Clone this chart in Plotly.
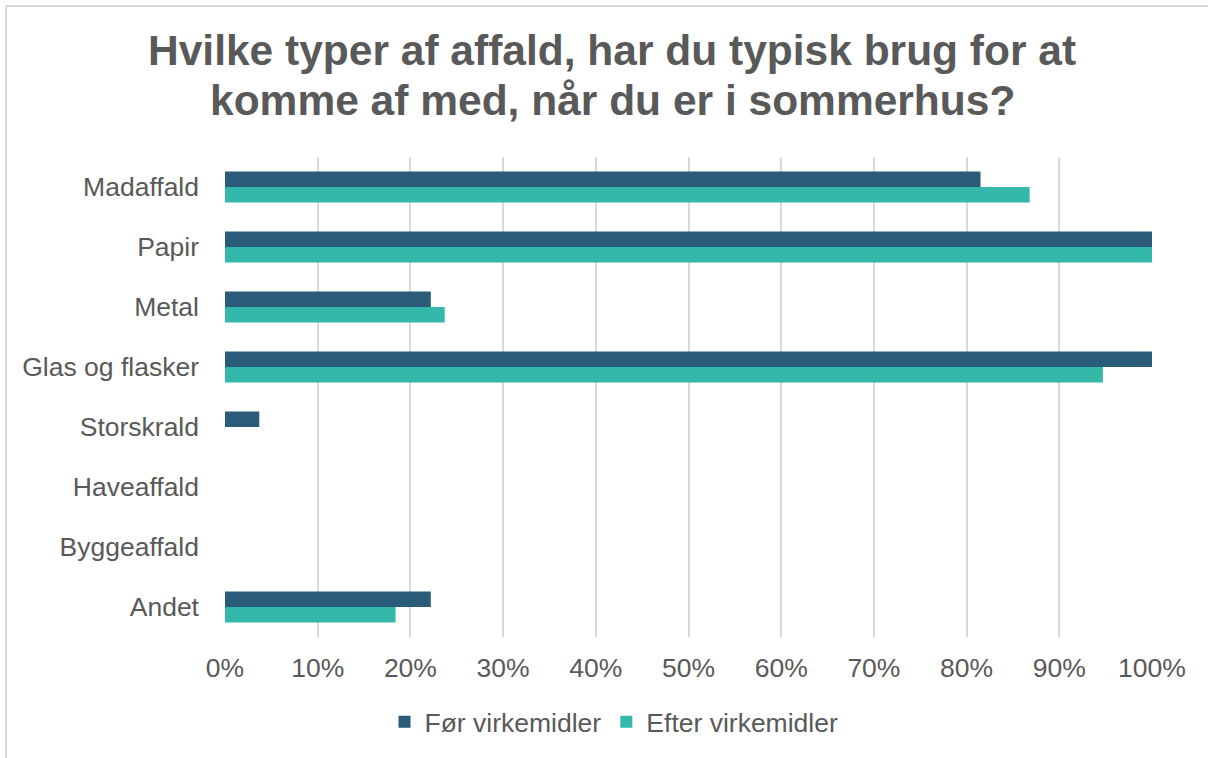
import plotly.graph_objects as go

categories = ["Madaffald", "Papir", "Metal", "Glas og flasker", "Storskrald", "Haveaffald", "Byggeaffald", "Andet"]
foer_values = [81.5, 100, 22.2, 100, 3.7, 0, 0, 22.2]
efter_values = [86.8, 100, 23.7, 94.7, 0, 0, 0, 18.4]
x_ticks = [0, 10, 20, 30, 40, 50, 60, 70, 80, 90, 100]
x_tick_labels = [f"{v}%" for v in x_ticks]
title_lines = ["Hvilke typer af affald, har du typisk brug for at", "komme af med, når du er i sommerhus?"]

FONT = "Liberation Sans, Arial, sans-serif"
GRAY = "#595959"
W, H = 1208, 758
L, R, T, B = 225, 56, 157, 121
PW, PH = W - L - R, H - T - B


def px_x(px):
    return (px - L) / PW


def px_y(py):
    return (H - B - py) / PH


fig = go.Figure()
fig.add_trace(go.Bar(y=categories, x=foer_values, orientation="h", name="Før virkemidler",
                     marker=dict(color="#2A5B78", line=dict(width=0))))
fig.add_trace(go.Bar(y=categories, x=efter_values, orientation="h", name="Efter virkemidler",
                     marker=dict(color="#34B8A9", line=dict(width=0))))

fig.update_layout(
    width=W, height=H,
    paper_bgcolor="white", plot_bgcolor="white",
    margin=dict(l=L, r=R, t=T, b=B),
    barmode="group", bargap=0.48, bargroupgap=0,
    font=dict(family=FONT, color=GRAY, size=26.5),
    legend=dict(orientation="h", x=614 / W, xref="container", xanchor="center",
                y=1 - 722 / H, yref="container", yanchor="middle",
                font=dict(size=26.5, color=GRAY), traceorder="normal"),
    showlegend=True,
)
for i, line in enumerate(title_lines):
    fig.add_annotation(text=f"<b>{line}</b>", xref="paper", yref="paper",
                       x=px_x(612), y=px_y(51 + 49 * i), xanchor="center", yanchor="middle",
                       showarrow=False, font=dict(family=FONT, size=42.5, color=GRAY))

fig.update_xaxes(range=[0, 100], tickvals=x_ticks, ticktext=x_tick_labels,
                 showgrid=True, gridcolor="#D9D9D9", gridwidth=2,
                 zeroline=False, showline=False, ticks="", ticklabelstandoff=12,
                 tickfont=dict(size=26.5, color=GRAY))
fig.update_yaxes(autorange="reversed", showgrid=False, showline=False, zeroline=False,
                 ticks="", ticklabelstandoff=25, tickfont=dict(size=26.5, color=GRAY))

# chart frame (top and left edges)
fig.add_shape(type="line", xref="paper", yref="paper",
              x0=px_x(6), x1=px_x(W + 2), y0=px_y(6), y1=px_y(6),
              line=dict(color="#D9D9D9", width=2), layer="below")
fig.add_shape(type="line", xref="paper", yref="paper",
              x0=px_x(6), x1=px_x(6), y0=px_y(6), y1=px_y(H + 2),
              line=dict(color="#D9D9D9", width=2), layer="below")

fig.write_html("out.html", config={"displayModeBar": False},
               post_script="document.body.style.margin='0px';document.body.style.overflow='hidden';")
